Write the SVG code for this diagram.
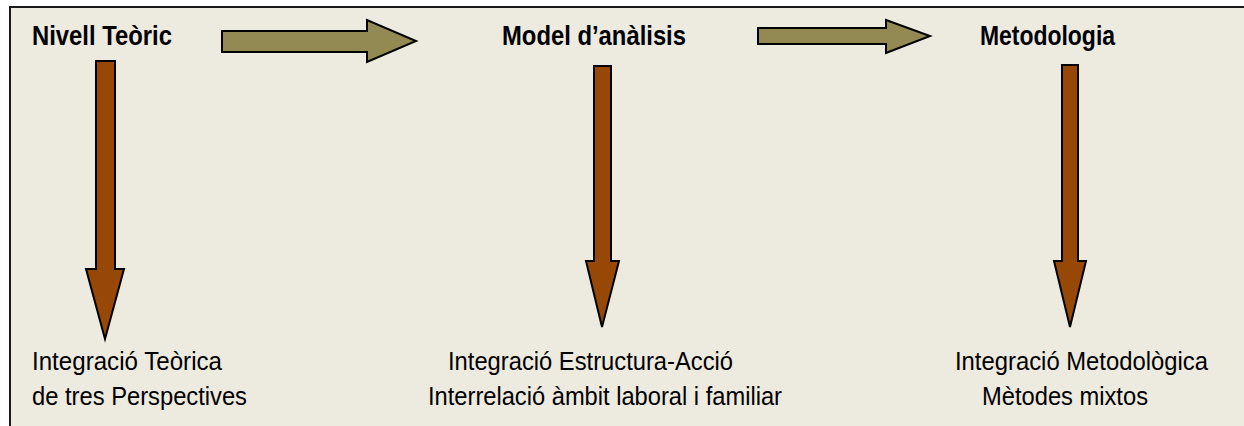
<svg xmlns="http://www.w3.org/2000/svg" width="1244" height="426" viewBox="0 0 1244 426">
<style>
.frame{fill:#EDEAE0;stroke:#1a1a1a;stroke-width:2}
.title{font-family:"Liberation Sans",Arial,sans-serif;font-weight:bold;font-size:27px;fill:#000}
.lbl{font-family:"Liberation Sans",Arial,sans-serif;font-size:26px;fill:#000}
.h{fill:#938953;stroke:#000;stroke-width:2;stroke-linejoin:miter}
.v{fill:#984806;stroke:#000;stroke-width:2;stroke-linejoin:miter}
</style>
<rect x="0" y="0" width="1244" height="426" fill="#ffffff"/>
<rect class="frame" x="10" y="7" width="1250" height="430"/>
<g id="connectors">
<polygon class="h" points="222,31 367,31 367,20 416,41 367,62 367,52 222,52"/>
<polygon class="h" points="758,28 886,28 886,20 930,36 886,53 886,44 758,44"/>
<polygon class="v" points="96,61 115,61 115,269 124,269 105,339 86,269 96,269"/>
<polygon class="v" points="594,66 611,66 611,261 619,261 602,327 586,261 594,261"/>
<polygon class="v" points="1062,65 1078,65 1078,261 1086,261 1070,327 1054,261 1062,261"/>
</g>
<g id="nivell-teoric">
<text class="title" x="32" y="45" textLength="140" lengthAdjust="spacingAndGlyphs">Nivell Teòric</text>
</g>
<g id="model-analisis">
<text class="title" x="502" y="45" textLength="184" lengthAdjust="spacingAndGlyphs">Model d’anàlisis</text>
</g>
<g id="metodologia">
<text class="title" x="980" y="45" textLength="135" lengthAdjust="spacingAndGlyphs">Metodologia</text>
</g>
<g id="integracio-teorica">
<text class="lbl" x="32" y="370" textLength="190" lengthAdjust="spacingAndGlyphs">Integració Teòrica</text>
<text class="lbl" x="32" y="405" textLength="215" lengthAdjust="spacingAndGlyphs">de tres Perspectives</text>
</g>
<g id="integracio-estructura">
<text class="lbl" x="448" y="370" textLength="285" lengthAdjust="spacingAndGlyphs">Integració Estructura-Acció</text>
<text class="lbl" x="428" y="405" textLength="354" lengthAdjust="spacingAndGlyphs">Interrelació àmbit laboral i familiar</text>
</g>
<g id="integracio-metodologica">
<text class="lbl" x="955" y="370" textLength="253" lengthAdjust="spacingAndGlyphs">Integració Metodològica</text>
<text class="lbl" x="982" y="405" textLength="166" lengthAdjust="spacingAndGlyphs">Mètodes mixtos</text>
</g>
</svg>
